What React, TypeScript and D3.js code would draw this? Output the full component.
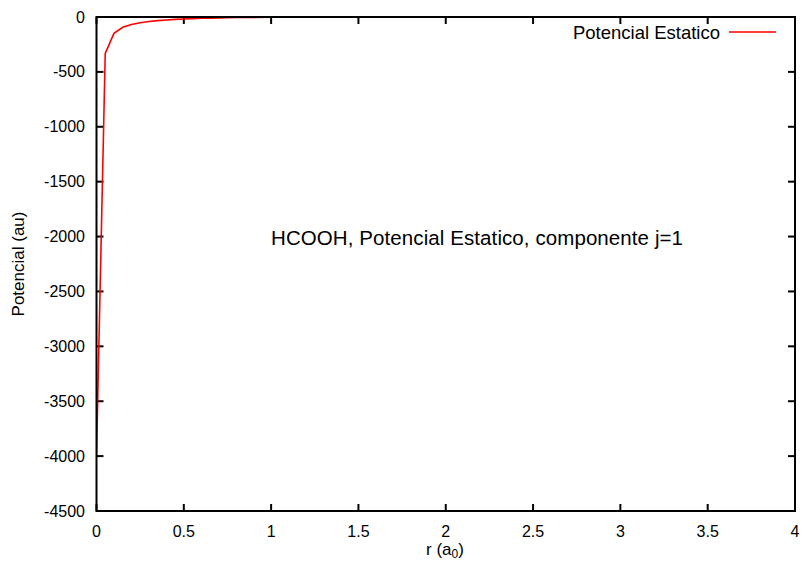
import React from "react";
import * as d3 from "d3";

const rValues = [0, 0.05, 0.1, 0.15, 0.2, 0.25, 0.3, 0.35, 0.4, 0.45, 0.5, 0.55, 0.6, 0.65, 0.7, 0.75, 0.8, 0.9, 1.0, 1.2, 1.4, 1.6, 1.8, 2.0, 2.5, 3.0, 3.5, 4.0];
const potValues = [-3990, -331, -149, -94, -68, -52, -41, -33, -27, -22, -18, -15, -12, -10, -8, -6.5, -5, -3.5, -2.5, -1.5, -1, -0.6, -0.4, -0.3, -0.15, -0.08, -0.04, -0.02];
const xTicks = [0, 0.5, 1, 1.5, 2, 2.5, 3, 3.5, 4];
const xTickLabels = ["0", "0.5", "1", "1.5", "2", "2.5", "3", "3.5", "4"];
const yTicks = [0, -500, -1000, -1500, -2000, -2500, -3000, -3500, -4000, -4500];
const yTickLabels = ["0", "-500", "-1000", "-1500", "-2000", "-2500", "-3000", "-3500", "-4000", "-4500"];
const seriesName = "Potencial Estatico";
const titleText = "HCOOH, Potencial Estatico, componente j=1";

export default function App() {
  const W = 804, H = 563;
  const L = 96.5, R = 795, T = 17, B = 511;
  const x = d3.scaleLinear().domain([0, 4]).range([L, R]);
  const y = d3.scaleLinear().domain([-4500, 0]).range([B, T]);
  const pts = rValues.map((r, i) => [r, potValues[i]] as [number, number]);
  const line = d3.line<[number, number]>().x(d => x(d[0])).y(d => y(d[1]));
  const font = "'Liberation Sans', Arial, sans-serif";
  const tl = 7;
  return (
    <svg width={W} height={H} style={{ position: "absolute", left: 0, top: 0, background: "#fff" }} fontFamily={font} fill="#000">
      <rect x={0} y={0} width={W} height={H} fill="#fff" />
      <defs>
        <clipPath id="clip"><rect x={L} y={T} width={R - L} height={B - T} /></clipPath>
      </defs>
      {xTicks.map((t, i) => (
        <g key={"x" + i}>
          <line x1={x(t)} x2={x(t)} y1={B} y2={B - tl} stroke="#000" strokeWidth={2} />
          <line x1={x(t)} x2={x(t)} y1={T} y2={T + tl} stroke="#000" strokeWidth={2} />
          <text x={x(t)} y={531} textAnchor="middle" dominantBaseline="central" fontSize={16}>{xTickLabels[i]}</text>
        </g>
      ))}
      {yTicks.map((t, i) => (
        <g key={"y" + i}>
          <line x1={L} x2={L + tl} y1={y(t)} y2={y(t)} stroke="#000" strokeWidth={2} />
          <line x1={R} x2={R - tl} y1={y(t)} y2={y(t)} stroke="#000" strokeWidth={2} />
          <text x={85} y={y(t)} textAnchor="end" dominantBaseline="central" fontSize={16}>{yTickLabels[i]}</text>
        </g>
      ))}
      <path d={line(pts) || ""} fill="none" stroke="#ff0000" strokeWidth={1.6} clipPath="url(#clip)" />
      <rect x={L} y={T} width={R - L} height={B - T} fill="none" stroke="#000" strokeWidth={2} />
      <text x={720} y={32} textAnchor="end" dominantBaseline="central" fontSize={18.5}>{seriesName}</text>
      <line x1={729} x2={776} y1={32} y2={32} stroke="#ff0000" strokeWidth={1.6} />
      <text x={477} y={237} textAnchor="middle" dominantBaseline="central" fontSize={20.5} textLength={412} lengthAdjust="spacing">{titleText}</text>
      <text x={445} y={549} textAnchor="middle" dominantBaseline="central" fontSize={17}>
        r (a<tspan fontSize={12} dy={5}>0</tspan><tspan dy={-5}>)</tspan>
      </text>
      <text transform={`translate(18, ${(T + B) / 2}) rotate(-90)`} textAnchor="middle" dominantBaseline="central" fontSize={17}>Potencial (au)</text>
    </svg>
  );
}
